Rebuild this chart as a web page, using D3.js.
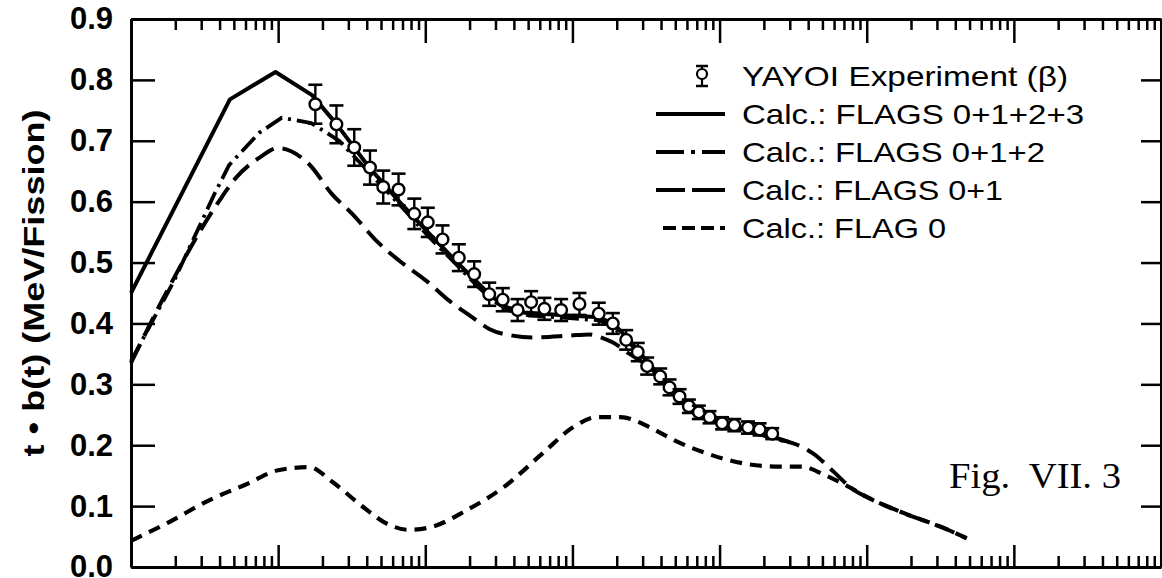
<!DOCTYPE html>
<html><head><meta charset="utf-8">
<script src="https://cdn.jsdelivr.net/npm/d3@7"></script>
<style>html,body{margin:0;padding:0;background:#fff;}svg{display:block;}</style>
</head><body>
<svg id="c" width="1162" height="578"></svg>
<script>
// ---- data ----
const expT = [17.9, 24.9, 32.9, 42.1, 51.8, 65.8, 84.2, 104, 131, 169, 215, 272, 336, 424, 524, 645, 838, 1116, 1510, 1881, 2318, 2780, 3220, 3950, 4570, 5345, 6185, 7230, 8550, 10400, 12600, 15600, 18700, 22800];
const expV = [0.760, 0.727, 0.689, 0.656, 0.624, 0.620, 0.580, 0.566, 0.538, 0.508, 0.481, 0.448, 0.439, 0.422, 0.435, 0.424, 0.422, 0.432, 0.416, 0.400, 0.373, 0.353, 0.330, 0.313, 0.295, 0.280, 0.264, 0.254, 0.246, 0.236, 0.233, 0.229, 0.226, 0.219];
const expErr = [0.032, 0.031, 0.030, 0.028, 0.027, 0.026, 0.025, 0.024, 0.023, 0.022, 0.021, 0.019, 0.019, 0.018, 0.018, 0.018, 0.018, 0.018, 0.018, 0.017, 0.016, 0.015, 0.014, 0.013, 0.013, 0.012, 0.011, 0.011, 0.010, 0.010, 0.010, 0.010, 0.010, 0.009];

const f0123T = [1, 4.7, 9.6, 17, 25, 42, 66.6, 106, 170, 272, 345, 471, 816, 1527, 1932, 2444, 3342, 4570, 6250, 8550, 13700, 22900, 30000];
const f0123V = [0.450, 0.768, 0.813, 0.775, 0.727, 0.655, 0.600, 0.548, 0.497, 0.448, 0.428, 0.418, 0.414, 0.410, 0.398, 0.372, 0.333, 0.297, 0.265, 0.244, 0.229, 0.214, 0.205];

const f012T = [1, 1.96, 3.73, 4.64, 7.43, 10.6, 16.8, 26, 41.6, 68.7, 106, 170, 226, 295, 373, 510, 816, 1527, 1932, 2444, 3342, 4570, 6250, 8550, 13700, 22900, 30000];
const f012V = [0.338, 0.470, 0.615, 0.660, 0.713, 0.738, 0.729, 0.700, 0.648, 0.592, 0.542, 0.492, 0.461, 0.436, 0.421, 0.413, 0.410, 0.405, 0.392, 0.368, 0.331, 0.295, 0.263, 0.242, 0.227, 0.212, 0.204];

const f01T = [1, 1.72, 3.97, 5.16, 7.43, 10, 16.3, 23.3, 31.9, 46.4, 66.6, 101.6, 146, 209, 272, 391, 535, 954, 1306, 1527, 1871, 2444, 3342, 4570, 6250, 8550, 13700, 22900, 35000, 42900, 60500, 79000, 100000, 181000, 334000, 479000];
const f01V = [0.335, 0.449, 0.601, 0.639, 0.672, 0.688, 0.661, 0.612, 0.580, 0.536, 0.503, 0.470, 0.437, 0.410, 0.391, 0.380, 0.377, 0.380, 0.382, 0.378, 0.369, 0.350, 0.328, 0.294, 0.262, 0.242, 0.227, 0.212, 0.199, 0.187, 0.155, 0.129, 0.115, 0.088, 0.064, 0.047];

const f0T = [1, 1.76, 3.42, 6.23, 10, 16.3, 23.3, 37.6, 53.9, 77.2, 111, 190, 345, 629, 1016, 1456, 2122, 3446, 4940, 8550, 14600, 23700, 36100, 51800, 79000, 100000, 181000, 334000, 479000];
const f0V = [0.043, 0.072, 0.110, 0.137, 0.159, 0.164, 0.140, 0.099, 0.072, 0.061, 0.066, 0.093, 0.132, 0.187, 0.230, 0.246, 0.246, 0.228, 0.208, 0.185, 0.170, 0.165, 0.165, 0.151, 0.129, 0.115, 0.088, 0.064, 0.047];

const yTicks = [0, 0.1, 0.2, 0.3, 0.4, 0.5, 0.6, 0.7, 0.8, 0.9];
const legendLabels = ["YAYOI Experiment (\u03B2)", "Calc.: FLAGS 0+1+2+3", "Calc.: FLAGS 0+1+2", "Calc.: FLAGS 0+1", "Calc.: FLAG 0"];
const yTitle = "t \u2022 b(t) (MeV/Fission)";
const figLabel = "Fig.\u00A0 VII. 3";

// ---- drawing ----
const svg = d3.select("#c");
const x = d3.scaleLog().domain([1, 1e7]).range([131, 1161]);
const y = d3.scaleLinear().domain([0, 0.9]).range([567, 19]);
const SANS = "'Liberation Sans', Arial, Helvetica, sans-serif";
const SERIF = "'Liberation Serif', 'Times New Roman', serif";

const isMajor = v => Math.abs(Math.log10(v) - Math.round(Math.log10(v))) < 1e-9;
const xt = x.ticks();

function styleAxis(g) {
  g.select(".domain").attr("stroke", "#000").attr("stroke-width", 3);
  g.selectAll(".tick line").attr("stroke", "#000").attr("stroke-width", 2.5);
}

// bottom axis
const gB = svg.append("g").attr("transform", `translate(0,${y(0)})`)
  .call(d3.axisBottom(x).tickValues(xt).tickFormat("").tickSizeOuter(0));
gB.selectAll(".tick line").attr("y2", d => isMajor(d) ? -22 : -11);
styleAxis(gB);
// top axis
const gT = svg.append("g").attr("transform", `translate(0,${y(0.9)})`)
  .call(d3.axisTop(x).tickValues(xt).tickFormat("").tickSizeOuter(0));
gT.selectAll(".tick line").attr("y2", d => isMajor(d) ? 24 : 11);
styleAxis(gT);
// left axis
const gL = svg.append("g").attr("transform", `translate(${x(1)},0)`)
  .call(d3.axisLeft(y).tickValues(yTicks).tickFormat(d3.format(".1f")).tickSize(-24).tickSizeOuter(0).tickPadding(18));
styleAxis(gL);
gL.selectAll(".tick text").attr("font-family", SANS).attr("font-weight", "bold").attr("font-size", 31).attr("fill", "#000");
// right axis
const gR = svg.append("g").attr("transform", `translate(${x(1e7)},0)`)
  .call(d3.axisRight(y).tickValues(yTicks.slice(1, 9)).tickFormat("").tickSize(-20).tickSizeOuter(0));
styleAxis(gR);

// y title
svg.append("text").attr("transform", "translate(44,283) rotate(-90)")
  .attr("text-anchor", "middle").attr("font-family", SANS).attr("font-weight", "bold")
  .attr("font-size", 30).attr("textLength", 347).attr("lengthAdjust", "spacingAndGlyphs").text(yTitle);

// curves
const series = [
  {t: f0T, v: f0V, dash: "12,8", w: 4.2, curve: d3.curveMonotoneX},
  {t: f01T, v: f01V, dash: "21,9", w: 4, curve: d3.curveMonotoneX},
  {t: f012T, v: f012V, dash: "19,6,3,6", w: 3.8, curve: d3.curveLinear},
  {t: f0123T, v: f0123V, dash: null, w: 4, curve: d3.curveLinear}
];
series.forEach(s => {
  const pts = s.t.map((t, i) => [t, s.v[i]]);
  const line = d3.line().x(d => x(d[0])).y(d => y(d[1])).curve(s.curve);
  svg.append("path").attr("d", line(pts)).attr("fill", "none").attr("stroke", "#000")
    .attr("stroke-width", s.w).attr("stroke-dasharray", s.dash).attr("stroke-linejoin", "round");
});

// experiment points
const pts = expT.map((t, i) => ({t, v: expV[i], e: expErr[i]}));
const gp = svg.append("g");
const pg = gp.selectAll("g").data(pts).join("g");
pg.append("line").attr("x1", d => x(d.t)).attr("x2", d => x(d.t))
  .attr("y1", d => y(d.v + d.e)).attr("y2", d => y(d.v - d.e)).attr("stroke", "#000").attr("stroke-width", 2.4);
pg.append("line").attr("x1", d => x(d.t) - 7).attr("x2", d => x(d.t) + 7)
  .attr("y1", d => y(d.v + d.e)).attr("y2", d => y(d.v + d.e)).attr("stroke", "#000").attr("stroke-width", 2.6);
pg.append("line").attr("x1", d => x(d.t) - 7).attr("x2", d => x(d.t) + 7)
  .attr("y1", d => y(d.v - d.e)).attr("y2", d => y(d.v - d.e)).attr("stroke", "#000").attr("stroke-width", 2.6);
pg.append("circle").attr("cx", d => x(d.t)).attr("cy", d => y(d.v)).attr("r", 5.8)
  .attr("fill", "#fff").attr("stroke", "#000").attr("stroke-width", 2.4);

// legend
const lg = svg.append("g");
const lgBase = [86, 124, 162, 200, 238];
const lgW = [326, 342, 303, 261, 204];
legendLabels.forEach((lab, i) => {
  lg.append("text").attr("x", 742).attr("y", lgBase[i]).attr("font-family", SANS)
    .attr("font-size", 28).attr("textLength", lgW[i]).attr("lengthAdjust", "spacingAndGlyphs").text(lab);
});
// legend symbol: experiment
{
  const cy = lgBase[0] - 10, cx = 702;
  lg.append("line").attr("x1", cx).attr("x2", cx).attr("y1", cy - 10).attr("y2", cy + 10).attr("stroke", "#000").attr("stroke-width", 2.2);
  [cy - 10, cy + 10].forEach(yy => lg.append("line").attr("x1", cx - 6).attr("x2", cx + 6).attr("y1", yy).attr("y2", yy).attr("stroke", "#000").attr("stroke-width", 2.5));
  lg.append("circle").attr("cx", cx).attr("cy", cy - 2).attr("r", 5).attr("fill", "#fff").attr("stroke", "#000").attr("stroke-width", 2.2);
}
const lgDash = [null, null, "28,7,4,7,40", "29,7,40", "13,6"];
const lgX0 = [0, 656, 656, 656, 663];
for (let i = 1; i < 5; i++) {
  lg.append("line").attr("x1", lgX0[i]).attr("x2", 725).attr("y1", lgBase[i] - 10).attr("y2", lgBase[i] - 10)
    .attr("stroke", "#000").attr("stroke-width", 4).attr("stroke-dasharray", lgDash[i]);
}

// figure label
svg.append("text").attr("x", 949).attr("y", 488).attr("font-family", SERIF).attr("font-size", 35)
  .attr("textLength", 172).attr("lengthAdjust", "spacingAndGlyphs").text(figLabel);
</script>
</body></html>
